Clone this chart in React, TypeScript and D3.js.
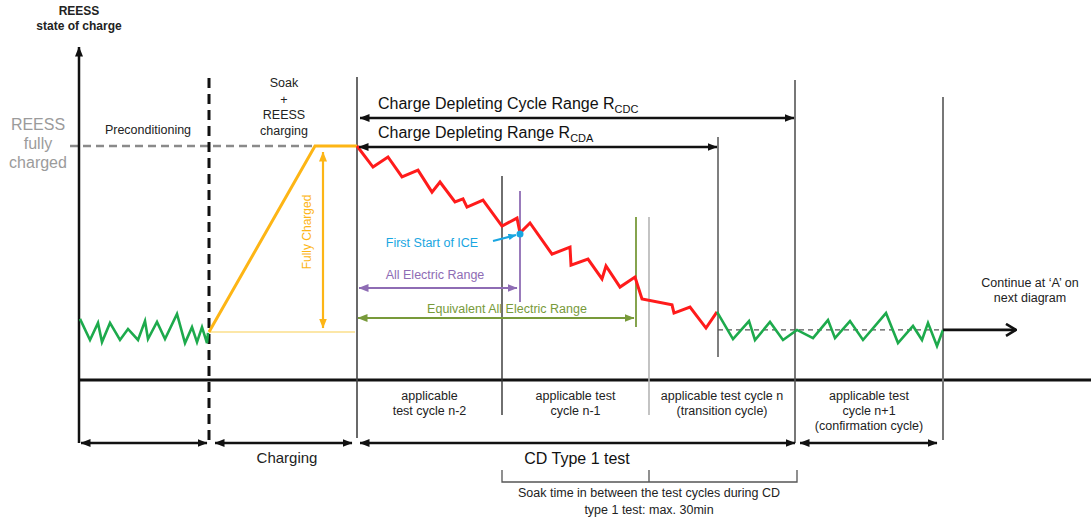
import React from 'react';
import * as d3 from 'd3';

const W = 1091;
const H = 520;

// ---- data (time in diagram units, SOC in %) ----
const precondT = [1, 11, 19, 23, 31, 41, 49, 59, 66, 69, 78, 86, 98, 106, 113, 118, 123, 128, 129];
const precondSOC = [26.1, 17.1, 24.4, 16.2, 24.4, 17.1, 21.8, 17.1, 25.2, 17.5, 24.8, 17.5, 28.2, 15.8, 22.6, 16.2, 22.6, 15.8, 20.1];
const chargeT = [130, 236, 278];
const chargeSOC = [20.5, 100, 100];
const cdT = [278, 294, 309, 323, 339, 353, 361, 376, 384, 388, 404, 423, 438, 441, 451, 473, 491, 492, 509, 523, 527, 541, 556, 563, 593, 595, 611, 627, 638];
const cdSOC = [100, 91.0, 95.3, 86.8, 89.7, 80.3, 84.6, 76.1, 77.4, 73.9, 76.9, 65.8, 69.2, 62.8, 67.1, 53.8, 56.8, 49.1, 51.7, 43.2, 48.7, 39.7, 44.0, 34.6, 32.1, 28.6, 31.2, 22.2, 29.1];
const csT = [638, 654, 670, 676, 691, 704, 718, 734, 749, 756, 771, 784, 807, 819, 834, 843, 849, 858, 864];
const csSOC = [29.1, 17.5, 25.2, 17.1, 24.8, 17.1, 21.4, 17.9, 25.6, 17.9, 25.2, 17.1, 28.6, 15.8, 23.1, 17.1, 24.4, 14.5, 21.4];
const csLevel = 21.4;
const baseSOC = 20.5;

// phase boundaries (time)
const tAxis = 0;
const tPrecondEnd = 130;
const tFull = 236;
const tChargeEnd = 278;
const tCycleBounds = [278, 423, 570, 716, 864]; // n-2, n-1, n, n+1
const tICE = 441;
const tEAER = 557;
const tCDA = 639;
const tFullyArrow = 244;

const cycleLabels = [
  ['applicable', 'test cycle n-2'],
  ['applicable test', 'cycle n-1'],
  ['applicable test cycle n', '(transition cycle)'],
  ['applicable test', 'cycle n+1', '(confirmation cycle)'],
];

const FONT = '"Liberation Sans", Arial, Helvetica, sans-serif';
const C = {
  black: '#111111',
  red: '#FF1B1B',
  green: '#1DAA4C',
  orange: '#FDB515',
  paleYellow: '#FCE7A8',
  purple: '#8E6CB4',
  olive: '#789A3A',
  blue: '#19A6E1',
  grayText: '#9b9b9b',
};

const x = d3.scaleLinear().domain([0, 1012]).range([79, 1091]);
const y = d3.scaleLinear().domain([0, 100]).range([380, 146]);

const zip = (a: number[], b: number[]) => a.map((v, i) => [v, b[i]] as [number, number]);
const line = d3
  .line<[number, number]>()
  .x((d) => x(d[0]))
  .y((d) => y(d[1]));

const markerColors: Record<string, string> = {
  black: C.black,
  purple: C.purple,
  olive: C.olive,
  orange: C.orange,
  blue: C.blue,
};

function Arrow({ x1, y1, x2, y2, color = 'black', w = 2.5, both = true }: any) {
  return (
    <line
      x1={x1}
      y1={y1}
      x2={x2}
      y2={y2}
      stroke={markerColors[color]}
      strokeWidth={w}
      markerEnd={`url(#mk-${color})`}
      markerStart={both ? `url(#mk-${color})` : undefined}
    />
  );
}

function VLine({ t, y1, y2, stroke = '#555', w = 1.5 }: any) {
  return <line x1={x(t)} x2={x(t)} y1={y1} y2={y2} stroke={stroke} strokeWidth={w} />;
}

export default function App() {
  const b = tCycleBounds;
  return (
    <div style={{ position: 'absolute', left: 0, top: 0 }}>
      <svg width={W} height={H} style={{ display: 'block', background: '#fff' }} fontFamily={FONT}>
        <defs>
          {Object.keys(markerColors).map((k) => (
            <marker
              key={k}
              id={`mk-${k}`}
              viewBox="0 0 10 8"
              refX={9.5}
              refY={4}
              markerWidth={k === 'blue' ? 8 : 10}
              markerHeight={k === 'blue' ? 6.5 : 8}
              markerUnits="userSpaceOnUse"
              orient="auto-start-reverse"
            >
              <path d="M0,0 L10,4 L0,8 z" fill={markerColors[k]} />
            </marker>
          ))}
          <marker
            id="mk-open"
            viewBox="0 0 12 14"
            refX={11}
            refY={7}
            markerWidth={12}
            markerHeight={14}
            markerUnits="userSpaceOnUse"
            orient="auto"
          >
            <path d="M1,1 L11,7 L1,13" fill="none" stroke={C.black} strokeWidth={2.6} />
          </marker>
        </defs>

        {/* y axis label */}
        <text x={79} y={15} textAnchor="middle" fontSize={12} fontWeight="bold" fill="#222">REESS</text>
        <text x={79} y={30} textAnchor="middle" fontSize={12} fontWeight="bold" fill="#222">state of charge</text>

        {/* fully charged label */}
        {['REESS', 'fully', 'charged'].map((s, i) => (
          <text key={s} x={38} y={130 + i * 19} textAnchor="middle" fontSize={16} fill={C.grayText}>
            {s}
          </text>
        ))}
        <line x1={70} x2={x(tFull)} y1={y(100)} y2={y(100)} stroke="#8a8a8a" strokeWidth={2.5} strokeDasharray="8,5" />

        {/* axes */}
        <line x1={x(tAxis)} x2={x(tAxis)} y1={443} y2={47} stroke={C.black} strokeWidth={2.5} markerEnd="url(#mk-black)" />
        <line x1={x(tAxis)} x2={W} y1={y(0)} y2={y(0)} stroke={C.black} strokeWidth={3} />

        {/* dashed preconditioning boundary */}
        <line x1={x(tPrecondEnd)} x2={x(tPrecondEnd)} y1={78} y2={443} stroke={C.black} strokeWidth={3} strokeDasharray="10,6" />

        <text x={148} y={134} textAnchor="middle" fontSize={12.5} fill="#222">Preconditioning</text>
        {['Soak', '+', 'REESS', 'charging'].map((s, i) => (
          <text key={i} x={284} y={[87, 104, 119, 135][i]} textAnchor="middle" fontSize={12.5} fill="#222">
            {s}
          </text>
        ))}

        {/* vertical boundary lines */}
        <VLine t={b[0]} y1={77} y2={438} stroke="#444" w={1.6} />
        <VLine t={b[1]} y1={176} y2={415} stroke="#333" w={1.4} />
        <VLine t={b[2]} y1={217} y2={415} stroke="#b5b5b5" w={1.6} />
        <VLine t={tCDA} y1={137} y2={357} stroke="#555" w={1.5} />
        <VLine t={b[3]} y1={80} y2={443} stroke="#555" w={1.6} />
        <VLine t={b[4]} y1={97} y2={440} stroke="#777" w={2} />
        <VLine t={tICE} y1={191} y2={302} stroke={C.purple} w={1.8} />
        <VLine t={tEAER} y1={217} y2={327} stroke={C.olive} w={1.8} />

        {/* charging */}
        <line x1={x(tPrecondEnd)} x2={x(tChargeEnd) - 2} y1={y(baseSOC)} y2={y(baseSOC)} stroke={C.paleYellow} strokeWidth={2} />
        <path d={line(zip(chargeT, chargeSOC)) || ''} fill="none" stroke={C.orange} strokeWidth={3} />
        <Arrow x1={x(tFullyArrow)} x2={x(tFullyArrow)} y1={152} y2={328} color="orange" w={2.2} />
        <text
          transform={`translate(${x(tFullyArrow) - 12},232) rotate(-90)`}
          textAnchor="middle"
          fontSize={12}
          fill={C.orange}
        >
          Fully Charged
        </text>

        {/* SOC traces */}
        <path d={line(zip(precondT, precondSOC)) || ''} fill="none" stroke={C.green} strokeWidth={2.6} strokeLinejoin="miter" />
        <path d={line(zip(cdT, cdSOC)) || ''} fill="none" stroke={C.red} strokeWidth={3} />
        <line x1={x(tCDA)} x2={x(b[4])} y1={y(csLevel)} y2={y(csLevel)} stroke="#555" strokeWidth={1.3} strokeDasharray="5,4" />
        <path d={line(zip(csT, csSOC)) || ''} fill="none" stroke={C.green} strokeWidth={2.6} />

        {/* continue */}
        <line x1={x(b[4])} x2={1016} y1={y(csLevel)} y2={y(csLevel)} stroke={C.black} strokeWidth={2.6} markerEnd="url(#mk-open)" />
        <text x={1030} y={287} textAnchor="middle" fontSize={12.5} fill="#222">Continue at ‘A’ on</text>
        <text x={1030} y={302} textAnchor="middle" fontSize={12.5} fill="#222">next diagram</text>

        {/* top ranges */}
        <text x={378} y={109} fontSize={16} fill="#111">
          Charge Depleting Cycle Range R<tspan fontSize={11} dy={4}>CDC</tspan>
        </text>
        <Arrow x1={x(b[0]) + 3} x2={x(b[3]) - 1} y1={118} y2={118} />
        <text x={378} y={138} fontSize={16} fill="#111">
          Charge Depleting Range R<tspan fontSize={11} dy={4}>CDA</tspan>
        </text>
        <Arrow x1={x(b[0]) + 2} x2={x(tCDA) - 1} y1={147} y2={147} />

        {/* ICE */}
        <text x={432} y={247} textAnchor="middle" fontSize={12.5} fill={C.blue}>First Start of ICE</text>
        <Arrow x1={493} x2={516} y1={241} y2={235} color="blue" w={2.2} both={false} />
        <circle cx={x(tICE)} cy={234} r={3.5} fill={C.blue} />

        {/* AER / EAER */}
        <text x={435} y={279} textAnchor="middle" fontSize={12.5} fill={C.purple}>All Electric Range</text>
        <Arrow x1={x(b[0]) + 2} x2={x(tICE) - 3} y1={288} y2={288} color="purple" w={2} />
        <text x={507} y={313} textAnchor="middle" fontSize={12.5} fill={C.olive}>Equivalent All Electric Range</text>
        <Arrow x1={x(b[0]) + 1} x2={x(tEAER) - 2} y1={318} y2={318} color="olive" w={2} />

        {/* cycle labels */}
        {cycleLabels.map((lines, i) => {
          const cx = (x(b[i]) + x(b[i + 1])) / 2;
          return lines.map((s, j) => (
            <text key={`${i}-${j}`} x={cx} y={400 + j * 15} textAnchor="middle" fontSize={12.5} fill="#222">
              {s}
            </text>
          ));
        })}

        {/* bottom arrows */}
        <Arrow x1={x(tAxis) + 2} x2={x(tPrecondEnd) - 2} y1={443} y2={443} />
        <Arrow x1={x(tPrecondEnd) + 6} x2={x(tChargeEnd) - 5} y1={443} y2={443} />
        <Arrow x1={x(b[0]) + 3} x2={x(b[3])} y1={443} y2={443} />
        <Arrow x1={x(b[3]) + 5} x2={x(b[4]) - 6} y1={443} y2={443} />
        <text x={287} y={463} textAnchor="middle" fontSize={15} fill="#222">Charging</text>
        <text x={577} y={464} textAnchor="middle" fontSize={16} fill="#111">CD Type 1 test</text>

        {/* soak bracket */}
        <path
          d={`M${x(b[1])},470 V482 H${x(b[3]) + 2} V470 M${x(b[2])},470 V482`}
          fill="none"
          stroke="#555"
          strokeWidth={1.3}
        />
        <text x={x(b[2])} y={497} textAnchor="middle" fontSize={12.5} fill="#222">
          Soak time in between the test cycles during CD
        </text>
        <text x={x(b[2])} y={514} textAnchor="middle" fontSize={12.5} fill="#222">
          type 1 test: max. 30min
        </text>
      </svg>
    </div>
  );
}
